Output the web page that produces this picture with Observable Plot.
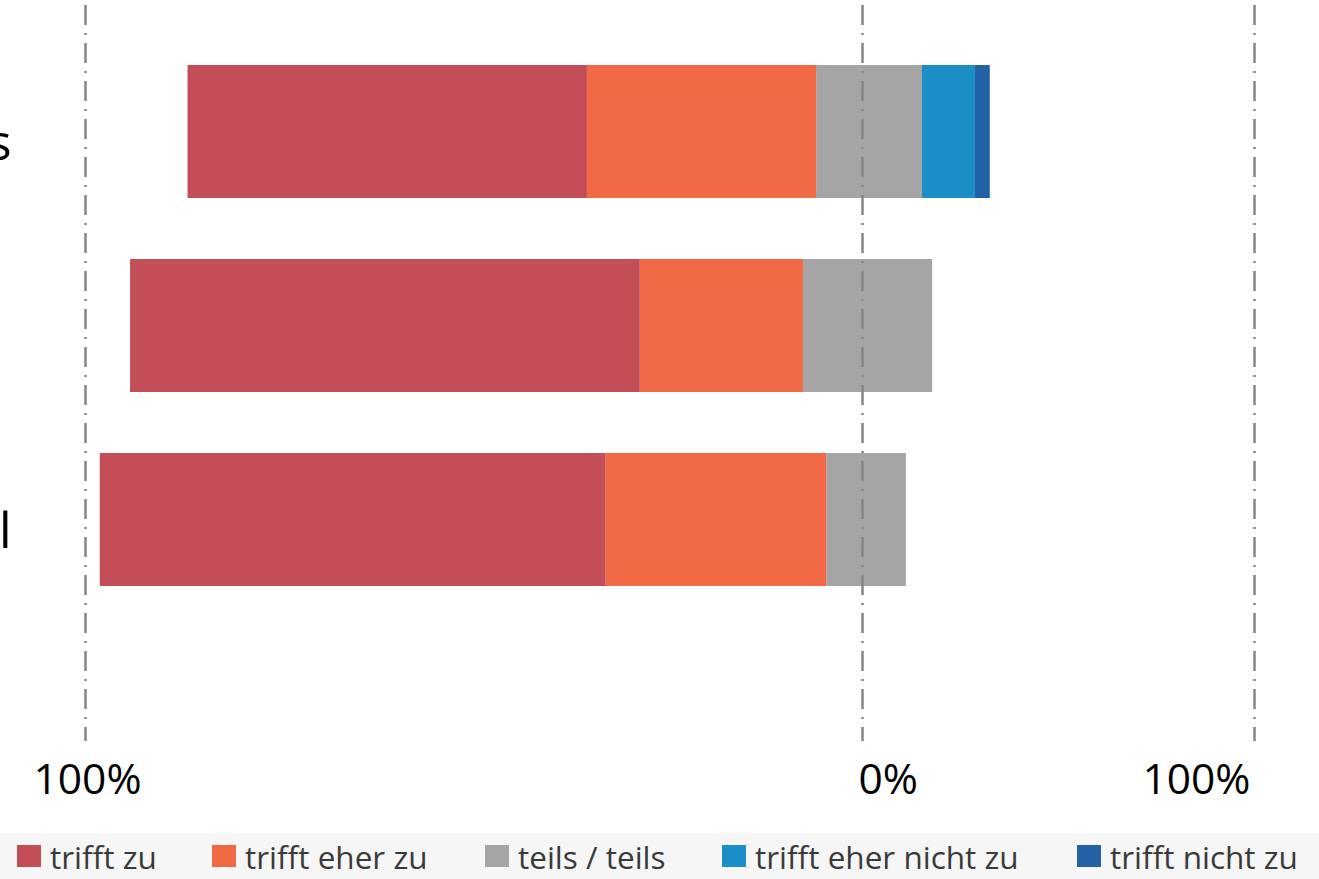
<!DOCTYPE html>
<html><head><meta charset="utf-8">
<script src="https://cdn.jsdelivr.net/npm/d3@7"></script>
<script src="https://cdn.jsdelivr.net/npm/@observablehq/plot@0.6"></script>
<style>
body{margin:0;background:#fff;font-family:"Open Sans",sans-serif;overflow:hidden}
#chart svg{display:block}
#legend{position:relative;height:46px;background:#f6f6f6;width:1319px}
.item{position:absolute;top:0;height:46px;display:flex;align-items:center;font-size:31.5px;color:#3a3a3a;white-space:nowrap}
.sw{width:24px;height:22px;margin-right:9px}
</style></head><body>
<div id="chart"></div><div id="legend"></div>
<script>
// Categories (only fragments of the labels are visible at the left edge)
const categories = ["1", "2", "3"];
const labelFragments = ["s", "", "l"];
const answers = ["trifft zu", "trifft eher zu", "teils / teils", "trifft eher nicht zu", "trifft nicht zu"];
const colors = ["#c44e57", "#f26a45", "#a5a5a5", "#1c8ec6", "#2261a6"];
// Values in % of the chart axis (left of 0 = agreement, right of 0 = disagreement)
const trifftZu = [51.4, 65.6, 65.1];
const trifftEherZu = [29.5, 21.0, 28.4];
const teilsLeft = [5.9, 7.6, 4.6];     // part of "teils / teils" left of 0%
const teilsRight = [15.3, 17.9, 11.2]; // part of "teils / teils" right of 0%
const trifftEherNichtZu = [13.5, 0, 0];
const trifftNichtZu = [3.8, 0, 0];
const ticks = [-100, 0, 100];
const tickLabels = ["100%", "0%", "100%"];

const rows = [];
categories.forEach((c, i) => {
  rows.push({cat: c, answer: answers[2], value: -teilsLeft[i]});
  rows.push({cat: c, answer: answers[1], value: -trifftEherZu[i]});
  rows.push({cat: c, answer: answers[0], value: -trifftZu[i]});
  rows.push({cat: c, answer: answers[2], value: teilsRight[i]});
  rows.push({cat: c, answer: answers[3], value: trifftEherNichtZu[i]});
  rows.push({cat: c, answer: answers[4], value: trifftNichtZu[i]});
});
const tickData = ticks.map((t, i) => ({t, label: tickLabels[i], idx: i}));
const catLabels = categories.map((c, i) => ({cat: c, label: labelFragments[i]}));

const chart = Plot.plot({
  width: 1319,
  height: 833,
  marginTop: 5,
  marginBottom: 92,
  marginLeft: 0,
  marginRight: 0,
  x: {type: "linear", domain: [-100, 0, 100], range: [85, 862, 1254], axis: null},
  y: {type: "band", domain: categories, range: [3, 648], padding: 0.316, axis: null},
  color: {domain: answers, range: colors},
  style: {fontFamily: "'Open Sans', sans-serif", background: "#fff"},
  marks: [
    Plot.barX(rows, Plot.stackX({x: "value", y: "cat", fill: "answer", order: null, inset: 0})),
    Plot.ruleX(ticks, {stroke: "#858585", strokeWidth: 2.5, strokeDasharray: "20 8 2 8"}),
    Plot.text(tickData.filter(d => d.idx === 0), {x: "t", text: "label", frameAnchor: "bottom", lineAnchor: "middle", dy: 39, textAnchor: "middle", dx: 2, fontSize: 42.5, fill: "#000"}),
    Plot.text(tickData.filter(d => d.idx === 1), {x: "t", text: "label", frameAnchor: "bottom", lineAnchor: "middle", dy: 39, textAnchor: "start", dx: -4, fontSize: 42.5, fill: "#000"}),
    Plot.text(tickData.filter(d => d.idx === 2), {x: "t", text: "label", frameAnchor: "bottom", lineAnchor: "middle", dy: 39, textAnchor: "end", dx: -4, fontSize: 42.5, fill: "#000"}),
    Plot.text(catLabels, {x: () => -100, y: "cat", text: "label", textAnchor: "end", dx: -74, dy: 12, fontSize: 50, fill: "#000"})
  ]
});
document.getElementById("chart").appendChild(chart);

const legendLefts = [17, 212, 485, 722, 1077];
const legend = document.getElementById("legend");
answers.forEach((a, i) => {
  const it = document.createElement("div");
  it.className = "item";
  it.style.left = legendLefts[i] + "px";
  const sw = document.createElement("span");
  sw.className = "sw";
  sw.style.background = colors[i];
  const tx = document.createElement("span");
  tx.textContent = a;
  it.appendChild(sw); it.appendChild(tx);
  legend.appendChild(it);
});
</script>
</body></html>
